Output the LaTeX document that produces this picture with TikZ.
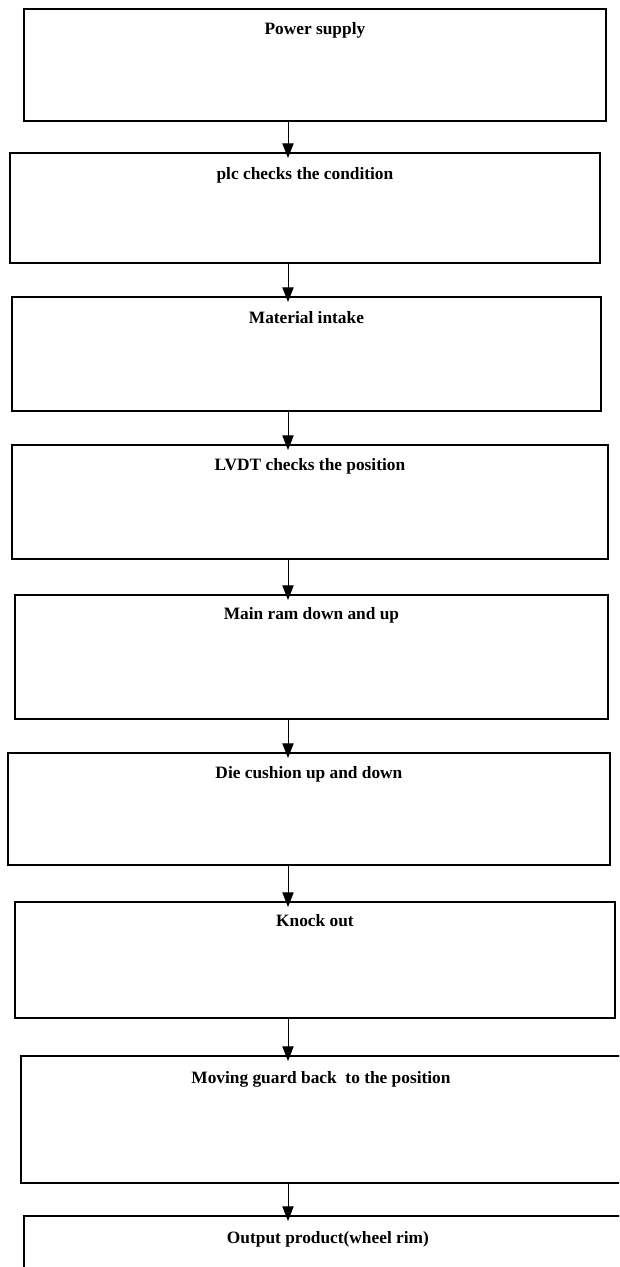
\documentclass[tikz,border=0pt]{standalone}
\usepackage{fontspec}
\setmainfont{Liberation Serif}
\usetikzlibrary{arrows.meta,positioning}

\begin{document}
\begin{tikzpicture}
[x=0.75pt,y=-0.75pt,
	stepbox/.style={draw,line width=1.4pt,anchor=north west,inner sep=0pt},
	steptext/.style={anchor=base,inner sep=0pt,font=\fontsize{13}{15}\selectfont\bfseries},
	flow/.style={line width=0.7pt,shorten >=-4.5pt,-{Triangle[length=11pt,width=8.5pt]}}]
\clip (0,0) rectangle (619,1267);
\coordinate (ax) at (288,0);

% the boxes
\node[stepbox,minimum width=436.5pt,minimum height=84pt] (b1) at (23,8) {};
\node[stepbox,minimum width=442.5pt,minimum height=82.5pt] (b2) at (9,152) {};
\node[stepbox,minimum width=441.75pt,minimum height=85.5pt] (b3) at (11,296) {};
\node[stepbox,minimum width=447pt,minimum height=85.5pt] (b4) at (11,444) {};
\node[stepbox,minimum width=444.75pt,minimum height=93pt] (b5) at (14,594) {};
\node[stepbox,minimum width=451.5pt,minimum height=84pt] (b6) at (7,752) {};
\node[stepbox,minimum width=450pt,minimum height=87pt] (b7) at (14,901) {};
\node[stepbox,minimum width=450pt,minimum height=95.25pt] (b8) at (20,1055) {};
\node[stepbox,minimum width=456pt,minimum height=90pt] (b9) at (23,1215) {};

% the texts
\node[steptext] (t1) at ([yshift=-20pt]b1.north) {Power supply};
\node[steptext] (t2) at ([yshift=-20.5pt]b2.north) {plc checks the condition};
\node[steptext] (t3) at ([yshift=-20.5pt]b3.north) {Material intake};
\node[steptext] (t4) at ([yshift=-20pt]b4.north) {LVDT checks the position};
\node[steptext] (t5) at ([yshift=-19pt]b5.north) {Main ram down and up};
\node[steptext] (t6) at ([yshift=-20pt]b6.north) {Die cushion up and down};
\node[steptext] (t7) at ([yshift=-19pt]b7.north) {Knock out};
\node[steptext] (t8) at ([yshift=-21pt]b8.north) {Moving guard back\ \ to the position};
\node[steptext] (t9) at ([yshift=-21pt]b9.north) {Output product(wheel rim)};

% the arrows
\draw[flow] (b1.south -| ax) -- (b2.north -| ax);
\draw[flow] (b2.south -| ax) -- (b3.north -| ax);
\draw[flow] (b3.south -| ax) -- (b4.north -| ax);
\draw[flow] (b4.south -| ax) -- (b5.north -| ax);
\draw[flow] (b5.south -| ax) -- (b6.north -| ax);
\draw[flow] (b6.south -| ax) -- (b7.north -| ax);
\draw[flow] (b7.south -| ax) -- (b8.north -| ax);
\draw[flow] (b8.south -| ax) -- (b9.north -| ax);
\end{tikzpicture}
\end{document}
